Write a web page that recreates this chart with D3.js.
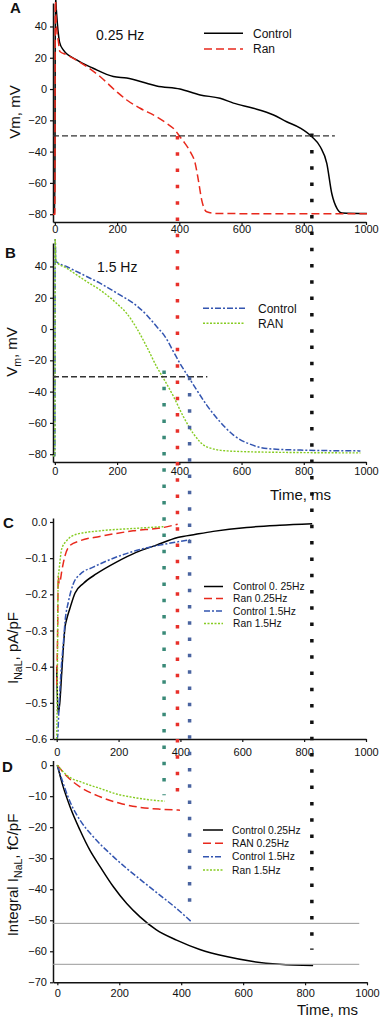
<!DOCTYPE html>
<html lang="en">
<head>
<meta charset="utf-8">
<title>INaL figure</title>
<script src="https://d3js.org/d3.v7.min.js"></script>
<style>
  body { margin: 0; background: #fff; }
  text { font-family: "Liberation Sans", Arial, sans-serif; fill: #111; }
</style>
</head>
<body>
<script>
// ---- data ----
// A: action potentials at 0.25 Hz
const apCtrl025T = [-6, 0, 1.5, 5, 8, 11, 15, 27, 70, 123, 188, 231, 295, 327, 402, 467, 531, 574, 638, 703, 745, 789, 826, 853, 874, 890, 907, 923, 1003];
const apCtrl025V = [-80, -80, 60, 50, 42, 35.7, 30, 25, 18.6, 13.3, 8, 7, 3.7, 2, 0, -3.8, -5.9, -9, -12.3, -16.6, -20.9, -25, -30.5, -36.9, -47.5, -66.8, -76.4, -79.2, -79.6];
const apRan025T = [-6, 0, 1.5, 4, 7, 11, 16, 37, 102, 145, 198, 231, 274, 327, 359, 386, 402, 418, 435, 451, 461, 472, 488, 520, 1003];
const apRan025V = [-80, -80, 60, 45, 36, 31, 24, 22, 14.4, 8, -1.6, -7, -12.3, -17.7, -21.9, -26.2, -30.5, -34.7, -40, -47.5, -58, -71, -78.5, -79.6, -79.8];
// B: action potentials at 1.5 Hz
const apCtrl15T = [-6, 0, 1, 3, 5, 37, 102, 145, 209, 252, 295, 327, 354, 381, 402, 429, 456, 488, 531, 574, 627, 681, 789, 982];
const apCtrl15V = [-81, -81, 58, 44, 43, 40, 33.6, 29.3, 21.8, 16.5, 9, 1.6, -4.8, -14.4, -21.9, -30.5, -39, -48.6, -59.3, -67.8, -73.6, -76.4, -77.4, -77.9];
const apRan15T = [-6, 0, 1, 3, 5, 37, 102, 145, 198, 231, 263, 295, 327, 349, 381, 413, 445, 488, 553, 681, 982];
const apRan15V = [-81, -81, 58, 44, 43, 39, 30.4, 25, 16.5, 10, 0.5, -11.2, -24, -31.5, -43, -56, -66.8, -75.3, -77.9, -78.7, -79.2];
// C: late sodium current
const inalCtrl025T = [0, 4, 10, 16, 22, 27, 32, 43, 59, 86, 129, 193, 257, 322, 391, 450, 506, 614, 721, 826];
const inalCtrl025V = [-0.40, -0.53, -0.50, -0.42, -0.34, -0.29, -0.27, -0.238, -0.197, -0.17, -0.143, -0.111, -0.084, -0.064, -0.043, -0.034, -0.026, -0.015, -0.009, -0.005];
const inalRan025T = [0, 3, 5, 8, 12, 16, 27, 43, 75, 139, 247, 343, 391];
const inalRan025V = [-0.45, -0.30, -0.15, -0.17, -0.16, -0.138, -0.093, -0.065, -0.052, -0.04, -0.0245, -0.0155, -0.006];
const inalCtrl15T = [0, 2, 8, 15, 22, 27, 38, 54, 75, 118, 193, 257, 333, 391, 430];
const inalCtrl15V = [-0.6, -0.6, -0.5, -0.40, -0.33, -0.275, -0.22, -0.17, -0.145, -0.125, -0.097, -0.079, -0.064, -0.055, -0.049];
const inalRan15T = [0, 2, 4, 5, 8, 16, 32, 64, 139, 247, 345];
const inalRan15V = [-0.6, -0.45, -0.2, -0.156, -0.13, -0.075, -0.052, -0.034, -0.0245, -0.018, -0.013];
// D: integral of INaL
const intCtrl025T = [0, 19, 41, 73, 105, 138, 181, 224, 267, 320, 385, 460, 546, 632, 718, 826];
const intCtrl025V = [0, -7, -13.4, -20.9, -27.4, -32.7, -39.2, -44.6, -48.9, -53.1, -56.4, -59.4, -61.7, -63.3, -64.2, -64.6];
const intRan025T = [0, 30, 73, 138, 202, 267, 331, 396];
const intRan025V = [0, -3.5, -7, -10.2, -12.3, -13.6, -14.2, -14.5];
const intCtrl15T = [0, 19, 41, 73, 116, 170, 224, 277, 331, 385, 433];
const intCtrl15V = [0, -5.9, -11.8, -17.7, -23.1, -28.5, -33.3, -37.6, -41.9, -46.2, -50.5];
const intRan15T = [0, 30, 84, 138, 191, 245, 310, 347];
const intRan15V = [0, -3.2, -5.7, -7.5, -9.3, -10.4, -11.3, -11.6];

// reference lines
const thresholdA = -30, thresholdAEnd = 900;
const thresholdB = -30.5, thresholdBEnd = 490;
const intLevels = [-51, -64.2], intLevelEnd = 975;
// APD markers (ms) and the values where the dotted lines start / stop
const apdMarkT = [826, 394, 433, 351];
const apdMarkFrom = [["A", -28.5], ["A", -30], ["B", -30.5], ["B", -26.5]];
const apdMarkTo = [-59.5, -11, -48, -9.7];

const xTicks = [0, 200, 400, 600, 800, 1000];
const vmTicks = [-80, -60, -40, -20, 0, 20, 40];
const inalTicks = [-0.6, -0.5, -0.4, -0.3, -0.2, -0.1, 0];
const intTicks = [-70, -60, -50, -40, -30, -20, -10, 0];

// ---- drawing ----
const W = 381, H = 1020;
const svg = d3.select("body").append("svg").attr("width", W).attr("height", H);

const RED = "#e8291c", BLUE = "#3355b0", GREEN = "#86cc22";
const styles = {
  ctrl025: { color: "#000", dash: null, w: 1.5 },
  ran025: { color: RED, dash: "8,4", w: 1.5 },
  ctrl15: { color: BLUE, dash: "6,2,2,2", w: 1.5 },
  ran15: { color: GREEN, dash: "2,1.5", w: 1.4 }
};

const zip = (ts, vs) => ts.map((t, i) => [t, vs[i]]);

// xpad: gap between the x tick marks and their labels (differs per panel in the figure)
const panels = {
  A: { top: 3, bottom: 222, ydom: [-85, 55], xdom: [-6, 1000], xr: [53, 366], ticks: vmTicks, fmt: d3.format("d"), xpad: 0 },
  B: { top: 243, bottom: 462, ydom: [-85, 55], xdom: [-6, 1000], xr: [53, 366], ticks: vmTicks, fmt: d3.format("d"), xpad: 2 },
  C: { top: 518, bottom: 739, ydom: [-0.6, 0.011], xdom: [-12, 1000], xr: [53, 366], ticks: inalTicks, fmt: d3.format(".1f"), xpad: 6 },
  D: { top: 760.5, bottom: 982.3, ydom: [-70, 1.5], xdom: [-14, 1000], xr: [53, 367], ticks: intTicks, fmt: d3.format("d"), xpad: 4 }
};

Object.entries(panels).forEach(([key, p]) => {
  p.x = d3.scaleLinear().domain(p.xdom).range(p.xr);
  p.y = d3.scaleLinear().domain(p.ydom).range([p.bottom, p.top]);
  const g = svg.append("g");
  svg.append("clipPath").attr("id", "clip" + key)
    .append("rect").attr("x", p.xr[0]).attr("y", p.top - 4)
    .attr("width", p.xr[1] - p.xr[0] + 2).attr("height", p.bottom - p.top + 4);
  p.plot = svg.append("g").attr("clip-path", "url(#clip" + key + ")");

  const ya = g.append("g").attr("transform", `translate(${p.xr[0]},0)`)
    .call(d3.axisLeft(p.y).tickValues(p.ticks).tickFormat(p.fmt).tickSize(3).tickSizeOuter(0).tickPadding(3));
  const xa = g.append("g").attr("transform", `translate(0,${p.bottom})`)
    .call(d3.axisBottom(p.x).tickValues(xTicks).tickFormat(d3.format("d")).tickSize(3).tickSizeOuter(0).tickPadding(p.xpad));
  [ya, xa].forEach(a => {
    a.select(".domain").attr("stroke", "#111").attr("stroke-width", 1.5);
    a.selectAll(".tick line").attr("stroke", "#111").attr("stroke-width", 1.2);
    a.selectAll(".tick text").attr("font-family", "Liberation Sans, Arial, sans-serif")
      .attr("font-size", 11).attr("fill", "#111");
  });
});

const line = p => d3.line().x(d => p.x(d[0])).y(d => p.y(d[1])).curve(d3.curveMonotoneX);

function trace(key, ts, vs, st) {
  const p = panels[key];
  p.plot.append("path").datum(zip(ts, vs))
    .attr("fill", "none").attr("stroke", st.color).attr("stroke-width", st.w)
    .attr("stroke-dasharray", st.dash).attr("stroke-linejoin", "round")
    .attr("d", line(p));
}

// horizontal reference lines
function hline(key, v, t1, color, w, dash) {
  const p = panels[key];
  svg.append("line").attr("x1", p.xr[0]).attr("x2", p.x(t1))
    .attr("y1", p.y(v)).attr("y2", p.y(v))
    .attr("stroke", color).attr("stroke-width", w).attr("stroke-dasharray", dash);
}
hline("A", thresholdA, thresholdAEnd, "#333", 1.3, "6,3");
hline("B", thresholdB, thresholdBEnd, "#333", 1.3, "6,3");
intLevels.forEach(v => hline("D", v, intLevelEnd, "#999", 1, null));

trace("A", apCtrl025T, apCtrl025V, styles.ctrl025);
trace("A", apRan025T, apRan025V, styles.ran025);
trace("B", apCtrl15T, apCtrl15V, styles.ctrl15);
trace("B", apRan15T, apRan15V, styles.ran15);
trace("C", inalCtrl025T, inalCtrl025V, styles.ctrl025);
trace("C", inalCtrl15T, inalCtrl15V, styles.ctrl15);
trace("C", inalRan025T, inalRan025V, styles.ran025);
trace("C", inalRan15T, inalRan15V, styles.ran15);
trace("D", intCtrl025T, intCtrl025V, styles.ctrl025);
trace("D", intCtrl15T, intCtrl15V, styles.ctrl15);
trace("D", intRan025T, intRan025V, styles.ran025);
trace("D", intRan15T, intRan15V, styles.ran15);

// vertical dotted APD markers spanning the panels
const markColors = ["#111", "#e8302a", "#4a64a0", "#3a8a78"];
apdMarkT.forEach((t, i) => {
  const [pk, v0] = apdMarkFrom[i];
  const x = panels.B.x(t);
  svg.append("line").attr("x1", x).attr("x2", x)
    .attr("y1", panels[pk].y(v0)).attr("y2", panels.D.y(apdMarkTo[i]))
    .attr("stroke", markColors[i]).attr("stroke-width", 3.5)
    .attr("stroke-dasharray", "3.5,12.8");
});

// panel letters
[["A", 10, 13], ["B", 5, 258], ["C", 3, 528], ["D", 2, 772]].forEach(([s, x, y]) =>
  svg.append("text").attr("x", x).attr("y", y).attr("font-size", 15)
    .attr("font-weight", "bold").text(s));

// y axis titles (rotated)
function ytitle(cx, cy, parts) {
  const t = svg.append("text").attr("transform", `translate(${cx},${cy}) rotate(-90)`)
    .attr("text-anchor", "middle").attr("font-size", 15);
  parts.forEach(([s, sub]) => {
    const ts = t.append("tspan").text(s);
    if (sub) ts.attr("font-size", 10.5).attr("dy", 4);
    else if (t.selectAll("tspan").size() > 1) ts.attr("dy", -4);
  });
}
ytitle(19.5, 112, [["Vm, mV"]]);
ytitle(17, 352, [["V"], ["m", true], [", mV"]]);
ytitle(18, 648, [["I"], ["NaL", true], [", pA/pF"]]);
ytitle(18, 875, [["Integral I"], ["NaL", true], [", fC/pF"]]);

// x axis titles
svg.append("text").attr("x", 270).attr("y", 500).attr("font-size", 15).text("Time, ms");
svg.append("text").attr("x", 297).attr("y", 1015).attr("font-size", 15).text("Time, ms");

// frequency labels
svg.append("text").attr("x", 96).attr("y", 40).attr("font-size", 14).text("0.25 Hz");
svg.append("text").attr("x", 97).attr("y", 271.5).attr("font-size", 14).text("1.5 Hz");

// legends
function legend(rows, x1, x2, tx, fs) {
  rows.forEach(([y, st, label]) => {
    svg.append("line").attr("x1", x1).attr("x2", x2).attr("y1", y).attr("y2", y)
      .attr("stroke", st.color).attr("stroke-width", st.w).attr("stroke-dasharray", st.dash);
    svg.append("text").attr("x", tx).attr("y", y).attr("dy", "0.35em")
      .attr("font-size", fs).text(label);
  });
}
legend([[33.3, styles.ctrl025, "Control"], [49, styles.ran025, "Ran"]], 204, 243, 253, 12);
legend([[308.3, styles.ctrl15, "Control"], [323.3, styles.ran15, "RAN"]], 203, 245, 258, 12);
legend([[586.5, styles.ctrl025, "Control 0. 25Hz"], [598.5, styles.ran025, "Ran 0.25Hz"],
        [611, styles.ctrl15, "Control 1.5Hz"], [623.5, styles.ran15, "Ran 1.5Hz"]], 204, 223, 233, 10.3);
legend([[830, styles.ctrl025, "Control 0.25Hz"], [843.3, styles.ran025, "RAN 0.25Hz"],
        [856.7, styles.ctrl15, "Control 1.5Hz"], [870, styles.ran15, "Ran 1.5Hz"]], 203, 223, 232, 10.3);
</script>
</body>
</html>
